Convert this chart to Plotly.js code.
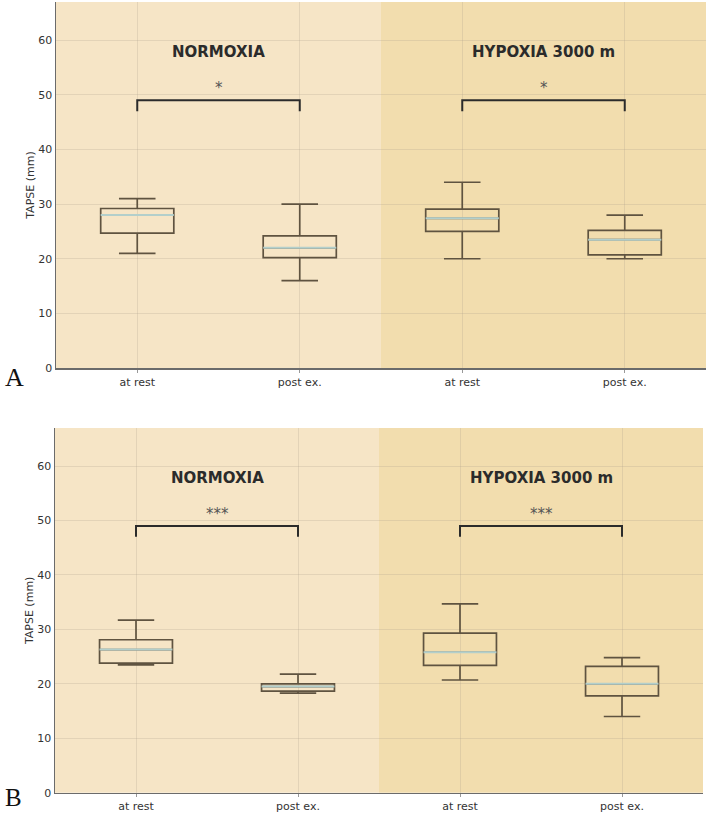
<!DOCTYPE html>
<html>
<head>
<meta charset="utf-8">
<script src="https://cdn.plot.ly/plotly-3.0.1.min.js"></script>
<style>
  html, body { margin: 0; padding: 0; background: #fff; }
  #chart { width: 709px; height: 813px; }
</style>
</head>
<body>
<div id="chart"></div>
<script>
// Conditions and time points
const categories = ['at rest', 'post ex.', 'at rest', 'post ex.'];
const groups = ['NORMOXIA', 'HYPOXIA 3000 m'];

// Panel A: TAPSE (mm) box statistics
const aLower  = [21.0, 16.0, 20.0, 20.0];
const aQ1     = [24.7, 20.2, 25.0, 20.7];
const aMedian = [28.0, 22.0, 27.4, 23.5];
const aQ3     = [29.2, 24.2, 29.1, 25.2];
const aUpper  = [31.0, 30.0, 34.0, 28.0];
const aSig    = ['*', '*'];

// Panel B: TAPSE (mm) box statistics
const bLower  = [23.5, 18.3, 20.7, 14.0];
const bQ1     = [23.8, 18.65, 23.4, 17.8];
const bMedian = [26.3, 19.5, 25.8, 20.0];
const bQ3     = [28.1, 20.0, 29.3, 23.2];
const bUpper  = [31.7, 21.8, 34.7, 24.8];
const bSig    = ['***', '***'];

const yTicks = [0, 10, 20, 30, 40, 50, 60];
const bracketY = 49;
const bracketDrop = 2;
const titleY = 57.8;

const pos = categories.map((_, i) => i);
const boxW = 0.45;

const outline = '#5F5340';
const medianColor = '#B3CFCB';
const lightBg = '#F6E5C6';
const darkBg = '#F2DDAE';
const txt = '#2b2b2b';
const gridCol = 'rgba(170,160,140,0.25)';
const FONT = 'DejaVu Sans, sans-serif';

function panel(xa, ya, lower, q1, med, q3, upper) {
  const xs = [], ys = [];
  med.forEach((m, i) => {
    xs.push(pos[i] - boxW / 2, pos[i] + boxW / 2, null);
    ys.push(m, m, null);
  });
  return [
    {
      type: 'box', xaxis: xa, yaxis: ya, x: pos,
      lowerfence: lower, q1: q1, median: med, q3: q3, upperfence: upper,
      width: boxW, whiskerwidth: 0.5,
      fillcolor: 'rgba(0,0,0,0)',
      line: { color: outline, width: 1.7 },
      hoverinfo: 'skip', showlegend: false
    },
    {
      type: 'scatter', mode: 'lines', xaxis: xa, yaxis: ya,
      x: xs, y: ys, line: { color: medianColor, width: 2 },
      hoverinfo: 'skip', showlegend: false
    },
    {
      type: 'scatter', mode: 'lines', xaxis: xa, yaxis: ya,
      x: [pos[0], pos[0], pos[1], pos[1], null, pos[2], pos[2], pos[3], pos[3]],
      y: [bracketY - bracketDrop, bracketY, bracketY, bracketY - bracketDrop, null,
          bracketY - bracketDrop, bracketY, bracketY, bracketY - bracketDrop],
      line: { color: txt, width: 2 },
      hoverinfo: 'skip', showlegend: false
    }
  ];
}

const data = [
  ...panel('x', 'y', aLower, aQ1, aMedian, aQ3, aUpper),
  ...panel('x2', 'y2', bLower, bQ1, bMedian, bQ3, bUpper)
];

function xAxis(domain, anchor) {
  return {
    domain: domain, anchor: anchor,
    range: [-0.5, 3.5], tickmode: 'array', tickvals: pos, ticktext: categories,
    showgrid: true, gridcolor: gridCol, gridwidth: 1,
    zeroline: false, showline: true, linecolor: '#6b6b6b', linewidth: 1.5,
    ticks: 'outside', ticklen: 3, tickcolor: '#999',
    tickfont: { family: FONT, size: 11, color: '#333' }
  };
}
function yAxis(domain, anchor) {
  return {
    domain: domain, anchor: anchor,
    range: [0, 67], tickmode: 'array', tickvals: yTicks,
    showgrid: true, gridcolor: gridCol, gridwidth: 1,
    zeroline: false, showline: true, linecolor: '#6b6b6b', linewidth: 1.5,
    ticks: '', ticklen: 0,
    tickfont: { family: FONT, size: 11, color: '#333' },
    title: { text: 'TAPSE (mm)', font: { family: FONT, size: 11, color: '#333' }, standoff: 1 }
  };
}

const W = 709, H = 813;
const shapes = [];
const annotations = [];

[['x', 'y', aSig], ['x2', 'y2', bSig]].forEach(([xa, ya, sig]) => {
  // shaded condition backgrounds
  shapes.push({ type: 'rect', xref: xa, yref: ya + ' domain', x0: -0.5, x1: 1.5, y0: 0, y1: 1,
                fillcolor: lightBg, line: { width: 0 }, layer: 'below' });
  shapes.push({ type: 'rect', xref: xa, yref: ya + ' domain', x0: 1.5, x1: 3.5, y0: 0, y1: 1,
                fillcolor: darkBg, line: { width: 0 }, layer: 'below' });
  groups.forEach((g, gi) => {
    const cx = (pos[gi * 2] + pos[gi * 2 + 1]) / 2;
    annotations.push({ xref: xa, yref: ya, x: cx, y: titleY, text: '<b>' + g + '</b>',
      showarrow: false, font: { family: FONT, size: 15, color: txt } });
    annotations.push({ xref: xa, yref: ya, x: cx, y: bracketY + 0.2, yanchor: 'bottom',
      text: sig[gi], showarrow: false, font: { family: FONT, size: 15, color: '#555' } });
  });
});

// panel letters
annotations.push({ xref: 'paper', yref: 'paper', x: 3 / W, y: 1 - 378 / H, xanchor: 'left', yanchor: 'middle',
  text: 'A', showarrow: false, font: { family: 'Liberation Serif, serif', size: 26, color: '#111' } });
annotations.push({ xref: 'paper', yref: 'paper', x: 3 / W, y: 0, xanchor: 'left', yanchor: 'bottom',
  text: 'B', showarrow: false, font: { family: 'Liberation Serif, serif', size: 25, color: '#111' } });

const layout = {
  width: W, height: H,
  margin: { l: 0, r: 0, t: 0, b: 0 },
  paper_bgcolor: '#ffffff', plot_bgcolor: 'rgba(0,0,0,0)',
  showlegend: false,
  xaxis: xAxis([56 / W, 706 / W], 'y'),
  yaxis: yAxis([1 - 368 / H, 1 - 2 / H], 'x'),
  xaxis2: xAxis([55 / W, 703 / W], 'y2'),
  yaxis2: yAxis([1 - 792.7 / H, 1 - 428 / H], 'x2'),
  shapes: shapes,
  annotations: annotations
};

Plotly.newPlot('chart', data, layout, { displayModeBar: false, staticPlot: true });
</script>
</body>
</html>
